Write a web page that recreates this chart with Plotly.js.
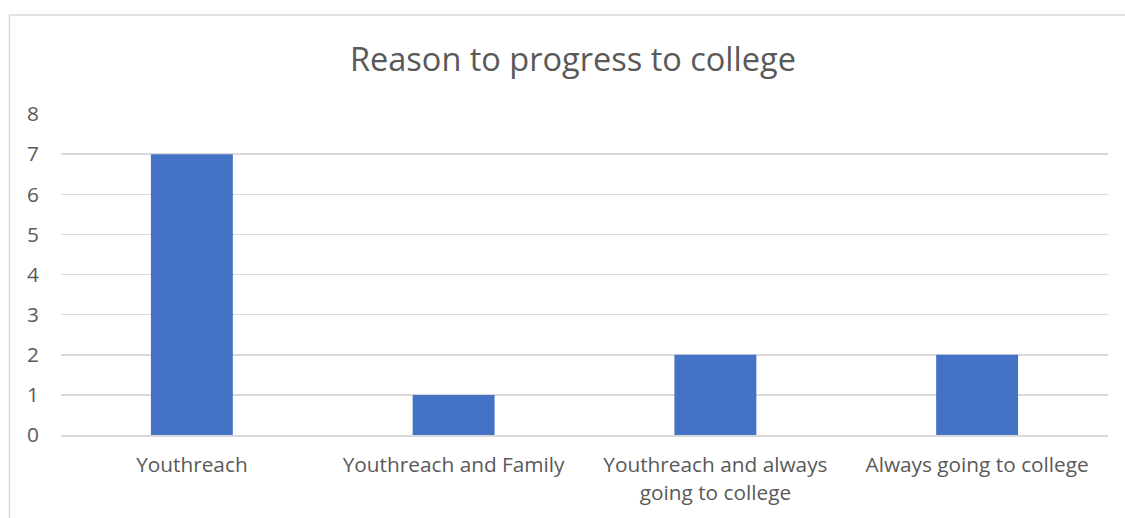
<!DOCTYPE html>
<html><head><meta charset="utf-8">
<script src="https://cdn.plot.ly/plotly-3.0.1.min.js"></script>
<style>html,body{margin:0;padding:0;background:#fff;}#chart{width:1125px;height:518px;}</style>
</head><body><div id="chart"></div>
<script>
const categories = ["Youthreach", "Youthreach and Family", "Youthreach and always<br>going to college", "Always going to college"];
const values = [7, 1, 2, 2];
const yTicks = [0, 1, 2, 3, 4, 5, 6, 7, 8];
const chartTitle = "Reason to progress to college";

const fontFam = "'Open Sans', sans-serif";
Plotly.newPlot('chart', [{
  type: 'bar', x: categories, y: values,
  marker: {color: '#4472C4'}, hoverinfo: 'none'
}], {
  width: 1125, height: 518,
  margin: {l: 61, r: 17, t: 114, b: 83},
  paper_bgcolor: '#fff', plot_bgcolor: '#fff',
  bargap: 0.687,
  showlegend: false,
  title: {text: chartTitle, font: {family: fontFam, size: 32.5, color: '#595959'}, x: 0.489, xref: 'paper', xanchor: 'center', y: 0.885, yanchor: 'middle'},
  xaxis: {tickfont: {family: fontFam, size: 20.8, color: '#595959'}, ticks: 'outside', ticklen: 11, tickcolor: 'rgba(0,0,0,0)', showline: true, linecolor: '#d9d9d9', linewidth: 1.5, showgrid: false, fixedrange: true},
  yaxis: {range: [0, 8], tickvals: yTicks, ticktext: yTicks.map(String), tickfont: {family: fontFam, size: 20.8, color: '#595959'}, ticks: 'outside', ticklen: 17, tickcolor: 'rgba(0,0,0,0)', gridcolor: '#d9d9d9', gridwidth: 1.5, zeroline: false, showline: false, fixedrange: true},
  shapes: [{type: 'rect', xref: 'paper', yref: 'paper', x0: -0.0492, x1: 1.3, y0: -0.6, y1: 1.3084, line: {color: '#d9d9d9', width: 1.5}, fillcolor: 'rgba(0,0,0,0)', layer: 'below'}]
}, {displayModeBar: false, staticPlot: true});
</script></body></html>
